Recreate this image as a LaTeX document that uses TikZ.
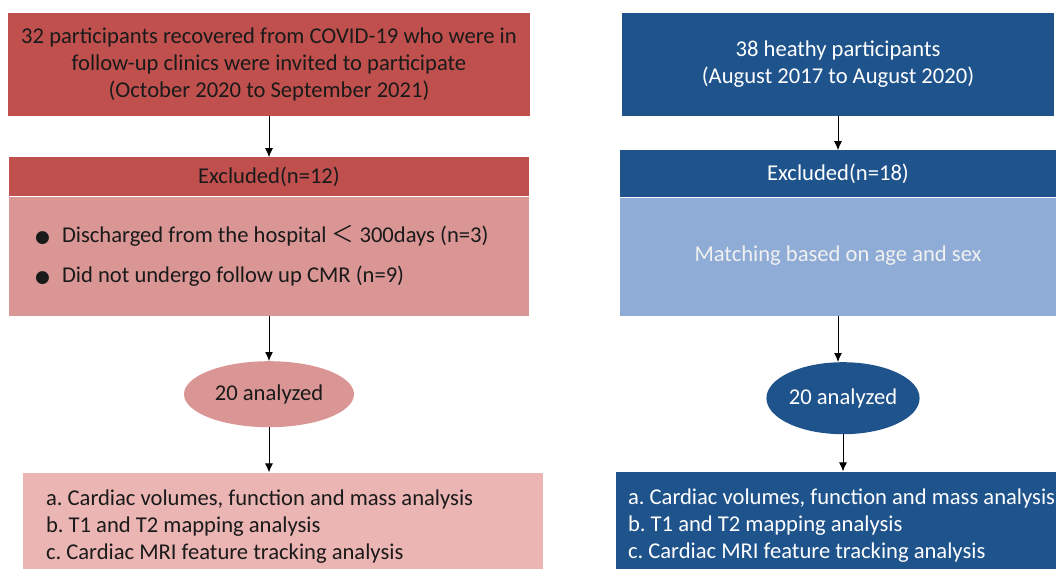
\documentclass[tikz,border=0pt]{standalone}
\usepackage{fontspec}
\setmainfont{Carlito}
\newfontfamily\cjkfont{Noto Sans CJK SC}
\newfontfamily\symfont{DejaVu Sans}
\usepackage{xcolor}
\usetikzlibrary{shapes}
\usetikzlibrary{arrows.meta}
\usetikzlibrary{positioning}
\frenchspacing
\definecolor{covid-dark}{HTML}{C0504D}
\definecolor{covid-light}{HTML}{DA9694}
\definecolor{covid-pale}{HTML}{EBB5B4}
\definecolor{healthy-dark}{HTML}{1F538C}
\definecolor{healthy-light}{HTML}{8FACD6}
\definecolor{ink}{HTML}{1A1A1A}
\newcommand{\listdot}{\makebox[27pt][l]{\symfont\fontsize{17}{17}\selectfont ●}}
\tikzset{>={Latex[length=9pt,width=8pt]}}
\tikzset{flow-line/.style={line width=1pt}}
\tikzset{flow-box/.style={inner sep=0, align=center, font=\fontsize{22.6}{27}\selectfont}}
\tikzset{covid-head/.style={flow-box, fill=covid-dark, text=ink}}
\tikzset{covid-body/.style={flow-box, fill=covid-light, text=ink}}
\tikzset{covid-result/.style={flow-box, fill=covid-pale, text=ink}}
\tikzset{healthy-head/.style={flow-box, fill=healthy-dark, text=white}}
\tikzset{healthy-body/.style={flow-box, fill=healthy-light, text=white!94!black}}

\begin{document}
\begin{tikzpicture}[x=1pt, y=-1pt]
            \useasboundingbox (0,0) rectangle (1056,568);
            \fill[white] (0,0) rectangle (1056,568);

            % covid-19 group
            \node[covid-head, minimum width=522pt, minimum height=103pt] (covid) at (269,64.5)
                {32 participants recovered from COVID-19 who were in\\follow-up clinics were invited to participate\\(October 2020 to September 2021)};
            \node[covid-head, minimum width=520pt, minimum height=39pt, below=41pt of covid] (exclL) {Excluded(n=12)};
            \node[covid-body, minimum height=119pt, text width=468pt, inner xsep=26pt, align=flush left, below=0pt of exclL] (exclL-body)
                {\listdot Discharged from the hospital {\cjkfont ＜} 300days (n=3)\\[13pt]
                 \listdot Did not undergo follow up CMR (n=9)};
            \node[covid-body, ellipse, minimum width=170pt, minimum height=66pt, below=45pt of exclL-body] (anaL) {20 analyzed};
            \node[covid-result, minimum height=108pt, text width=474pt, inner xsep=23pt, align=flush left, below=45pt of anaL, xshift=14pt] (resL)
                {a. Cardiac volumes, function and mass analysis\\b. T1 and T2 mapping analysis\\c. Cardiac MRI feature tracking analysis};

            % healthy group
            \node[healthy-head, minimum width=432pt, minimum height=103pt] (healthy) at (838,64.5)
                {38 heathy participants\\(August 2017 to August 2020)};
            \node[healthy-head, minimum width=436pt, minimum height=47pt, below=34pt of healthy] (exclR) {Excluded(n=18)};
            \node[healthy-body, minimum width=436pt, minimum height=118pt, below=0pt of exclR] (exclR-body)
                {\raisebox{7pt}{Matching based on age and sex}};
            \node[healthy-head, ellipse, minimum width=153pt, minimum height=72pt, below=46pt of exclR-body, xshift=5pt] (anaR) {20 analyzed};
            \node[healthy-head, minimum height=108pt, text width=440pt, inner xsep=12pt, align=flush left, anchor=north west] (resR)
                at ([xshift=-4pt, yshift=-37pt]exclR-body.west |- anaR.south)
                {a. Cardiac volumes, function and mass analysis\\b. T1 and T2 mapping analysis\\c. Cardiac MRI feature tracking analysis};

            \draw[->, flow-line] (covid) -- (exclL);
            \draw[->, flow-line] (exclL-body) -- (anaL);
            \draw[->, flow-line] (anaL) -- (anaL |- resL.north);

            \draw[->, flow-line] (healthy) -- (exclR);
            \draw[->, flow-line] (exclR-body.south) -- (exclR-body.south |- anaR.north);
            \draw[->, flow-line] (anaR) -- (anaR |- resR.north);

        \end{tikzpicture}
\end{document}
